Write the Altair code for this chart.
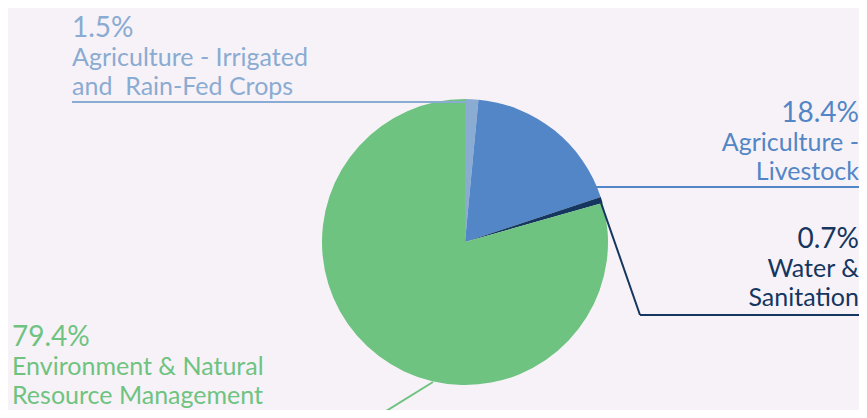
import altair as alt
import pandas as pd

categories = [
    "Agriculture - Irrigated and Rain-Fed Crops",
    "Agriculture - Livestock",
    "Water & Sanitation",
    "Environment & Natural Resource Management",
]
shares = [1.5, 18.4, 0.7, 79.4]
colors = ["#8aabd2", "#5286c6", "#14365f", "#6fc381"]
pct_labels = ["1.5%", "18.4%", "0.7%", "79.4%"]
name_lines = [
    ["Agriculture - Irrigated", "and \u00a0Rain-Fed Crops"],
    ["Agriculture -", "Livestock"],
    ["Water &", "Sanitation"],
    ["Environment & Natural", "Resource Management"],
]

W, H = 851, 402
OFF = 8  # page margin offset
FONT = "Lato"
RIGHT = 859

pie_df = pd.DataFrame({"category": categories, "share": shares, "order": list(range(len(shares)))})
one = pd.DataFrame({"k": [0]})

pie = alt.Chart(pie_df).mark_arc(outerRadius=143).encode(
    theta=alt.Theta("share:Q", stack=True),
    color=alt.Color("category:N", scale=alt.Scale(domain=categories, range=colors), legend=None),
    order=alt.Order("order:Q"),
    x=alt.value(465 - OFF),
    y=alt.value(242 - OFF),
)

def seg(x1, y1, x2, y2, color):
    return alt.Chart(one).mark_rule(color=color, strokeWidth=2).encode(
        x=alt.value(x1 - OFF), x2=alt.value(x2 - OFF),
        y=alt.value(y1 - OFF), y2=alt.value(y2 - OFF),
    )

lines = [
    seg(72, 102, 466, 102, colors[0]),
    seg(595, 187, RIGHT + 2, 187, colors[1]),
    seg(600, 200, 640, 315, colors[2]),
    seg(640, 315, RIGHT + 2, 315, colors[2]),
    seg(433, 382, 370, 421, colors[3]),
]

def txt(t, size, color, x, y, align):
    return alt.Chart(pd.DataFrame({"t": [t]})).mark_text(
        font=FONT, fontSize=size, fontWeight="normal",
        color=color, align=align, baseline="alphabetic",
    ).encode(text="t:N", x=alt.value(x - OFF), y=alt.value(y - OFF))

def label(i, x, y_pct, align, step=29):
    layers = [txt(pct_labels[i], 28, colors[i], x, y_pct, align)]
    for k, t in enumerate(name_lines[i]):
        layers.append(txt(t, 25, colors[i], x, y_pct + step * (k + 1), align))
    return layers

texts = []
texts += label(0, 72, 37, "left")
texts += label(1, RIGHT, 122, "right")
texts += label(2, RIGHT, 248, "right")
texts += label(3, 12, 346, "left")

chart = alt.layer(pie, *lines, *texts).properties(
    width=W, height=H, padding=0, autosize="none", background="#f7f2f7"
).configure_view(stroke=None)

chart.save("out.html", embed_options={"renderer": "svg", "actions": False})
